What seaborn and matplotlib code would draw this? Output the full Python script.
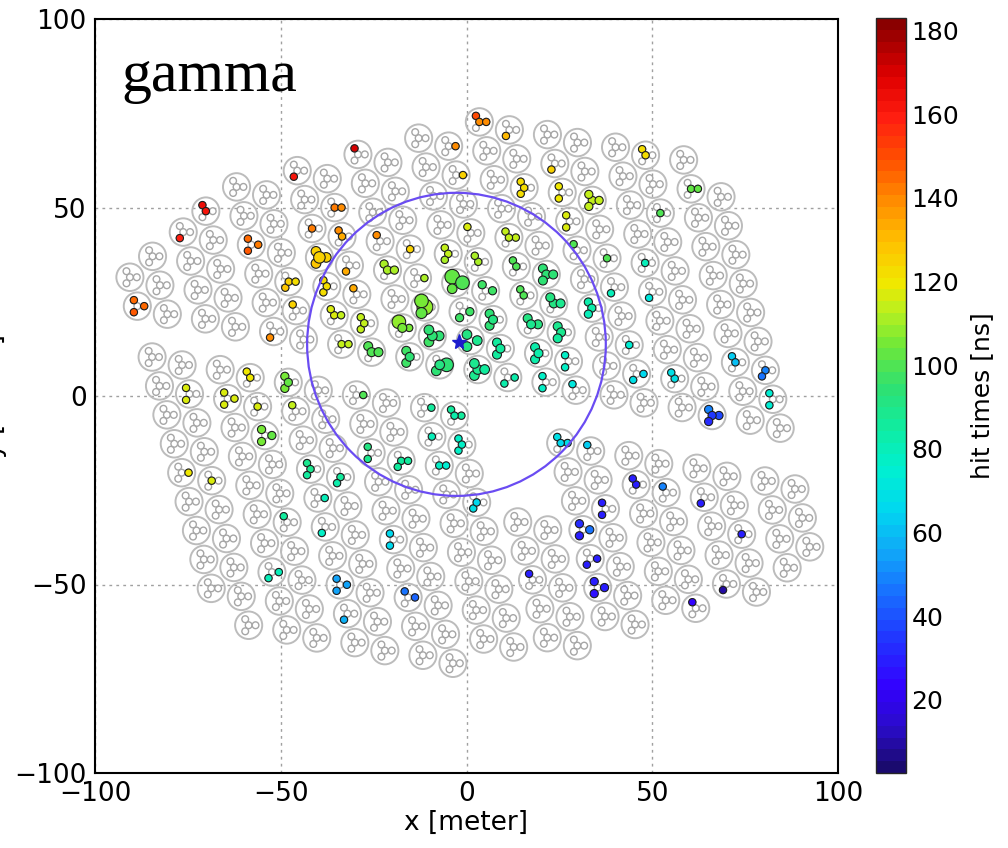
import numpy as np
import pandas as pd
import matplotlib
matplotlib.use("Agg")
import matplotlib.pyplot as plt
from matplotlib.collections import EllipseCollection
from matplotlib.colors import LinearSegmentedColormap, Normalize
from matplotlib.patches import Circle
import seaborn as sns

# ---------------- detector layout ----------------
# Tanks sit on a staggered lattice: 10 double strips, each made of two
# interleaved tank columns (side 0 / side 1).  Every column has an upper
# and a lower segment separated by an access lane.
col_strip   = [0, 0, 1, 1, 2, 2, 3, 3, 4, 4, 5, 5, 6, 6, 7, 7, 8, 8, 9, 9]
col_side    = [0, 1] * 10
upper_first = [0, -1, -2, -3, -4, -4, -5, -5, -6, -6, -7, -7, -8, -8, -8, -8, -8, -8, -8, -7]
upper_last  = [1] * 20
lower_first = [3] * 10 + [6, 6] + [3] * 8
lower_last  = [11, 12, 12, 12, 12, 12, 12, 12, 11, 11, 10, 10, 9, 9, 8, 8, 7, 7, 6, 5]
lower_dx    = [0.0] * 10 + [0.8, 0.8] + [0.0] * 8
lower_dy    = [1.85] * 10 + [-2.1, -2.1] + [-0.8] * 8

# lattice vectors [m]
origin     = np.array([-90.6, 31.5])
strip_step = np.array([18.33, -3.36])
side_step  = np.array([8.08, -2.12])
row_step   = np.array([1.99, -7.67])

tank_radius = 3.65
pmt_radius = 0.9
pmt_offset = 1.85
pmt_angles = [None, 0.0, 120.0, 240.0]   # pmt 0 is the central one

# ---------------- reconstructed event ----------------
core_x, core_y = -2.0, 14.3
ring_x, ring_y, ring_r = -2.7, 13.7, 40.2

# hit tanks (strip, side, row), the PMTs that fired, their times [ns] and charge scale
hit_tank = [
    (6, 0, -8), (5, 1, -7), (4, 0, -6), (5, 1, -6), (3, 0, -5), (3, 1, -4), (1, 1, -3),
    (1, 0, -2), (2, 0, -2), (3, 0, -3), (3, 1, -3), (4, 0, -3), (4, 1, -3), (3, 0, -2),
    (3, 1, -2), (4, 0, -2), (4, 1, -2), (5, 0, -2), (2, 1, -1), (3, 0, -1), (3, 1, -1),
    (4, 1, -1), (5, 0, -1), (0, 0, 1), (2, 1, 0), (2, 0, 1), (3, 0, 0), (3, 1, 0),
    (4, 0, 0), (4, 1, 0), (5, 0, 0), (3, 0, 1), (3, 1, 1), (4, 0, 1), (4, 1, 1),
    (5, 0, 1), (5, 1, -4), (5, 1, -3), (5, 1, -2), (5, 1, -1), (5, 1, 0), (5, 1, 1),
    (5, 0, -3), (6, 1, -8), (7, 0, -7), (6, 1, -6), (7, 0, -6), (7, 1, -6), (8, 1, -8),
    (9, 0, -7), (8, 1, -6), (7, 0, -5), (6, 0, -4), (7, 0, -4), (7, 1, -4), (8, 0, -4),
    (6, 0, -3), (6, 1, -3), (6, 0, -2), (6, 1, -2), (7, 1, -3), (8, 0, -3), (7, 0, -2),
    (6, 0, -1), (6, 1, -1), (6, 0, 0), (6, 1, 0), (7, 1, -1), (6, 0, 1), (6, 1, 1),
    (7, 1, 0), (8, 0, 0), (9, 0, -1), (9, 1, -1), (9, 1, 0), (6, 0, 3), (6, 1, 3),
    (8, 1, 1), (7, 0, 4), (7, 1, 4), (8, 0, 4), (6, 1, 5), (6, 0, 6), (6, 0, 7),
    (8, 1, 5), (5, 0, 8), (6, 0, 8), (8, 0, 7), (7, 1, 8), (1, 1, 3), (2, 0, 3),
    (3, 0, 3), (0, 1, 4), (1, 0, 4), (1, 1, 4), (2, 0, 4), (4, 0, 3), (4, 1, 3),
    (1, 1, 5), (3, 0, 5), (3, 1, 5), (4, 0, 4), (4, 1, 4), (4, 0, 5), (0, 0, 7),
    (0, 1, 7), (2, 0, 6), (2, 1, 6), (2, 0, 7), (1, 1, 8), (2, 0, 8), (3, 0, 8),
    (1, 0, 10), (2, 0, 10), (2, 0, 11), (3, 0, 10), (4, 1, 6),
]
hit_pmts = [
    [2, 0, 1], [1], [2], [1], [3], [0, 1], [2, 0],
    [3], [2, 1, 3], [0], [0, 2], [2], [0], [2, 0, 1, 3],
    [3], [2, 0, 1], [1], [2, 1, 3], [0, 1, 3], [2, 0, 3], [2],
    [2, 0, 3], [3, 1], [2, 3, 1], [2], [3], [2, 0, 1], [2, 0, 3],
    [2, 0, 1], [0, 1, 2, 3], [2, 1, 3], [0, 1], [2, 0, 1], [2, 0, 3], [1, 0, 3],
    [0, 1, 2, 3], [2], [2, 0], [2, 1], [2, 0, 3], [2, 0, 3], [1, 3],
    [2, 0, 3], [3], [3], [2, 0, 3], [2, 3], [0, 1, 2, 3], [2, 0],
    [0, 1], [0], [2, 3], [2, 0, 1], [2], [0], [0],
    [2, 0], [0, 1, 2, 3], [2, 0], [2, 0, 1], [3], [3], [2, 0, 3],
    [2, 0, 1], [2, 0, 3], [2, 0, 3], [2, 3], [0], [2, 3], [2],
    [3, 1], [2, 0], [2, 0], [0, 3], [2, 3], [2, 0, 1], [2],
    [0, 1, 3, 2], [2, 0], [2], [3], [2, 3], [2, 3, 1], [3, 1],
    [0], [2], [2, 3, 1], [3], [2], [2, 0], [2, 0, 3],
    [1], [2, 3], [2, 1, 3], [0], [2], [1], [2, 0, 1],
    [2, 1, 3], [2, 3], [0, 1, 3], [0], [2, 0, 3], [0, 1], [1],
    [0], [2, 3, 0], [0, 3], [1], [2], [3], [2, 3],
    [3, 1], [2, 1, 3], [3], [2, 1], [3, 0],
]
hit_times = [
    [150, 140, 138], [140], [170], [125], [163], [143, 140], [165, 163],
    [160], [145, 143, 147], [142], [135, 138], [138], [125], [125, 124, 126, 127],
    [135], [112, 112, 111], [112], [103, 100, 102], [125, 123, 128], [122, 121, 123], [135],
    [105, 107, 104], [98, 97], [145, 148, 144], [125], [140], [116, 116, 115], [114, 113, 114],
    [107, 106, 106], [95, 95, 94, 96], [90, 89, 91], [114, 113], [100, 100, 99], [96, 95, 96], [93, 92, 93],
    [88, 87, 88, 89], [118], [110, 110], [97, 97], [93, 92, 93], [86, 85, 86], [82, 82],
    [113, 113, 112], [130], [126], [122, 121, 122], [120, 119], [115, 115, 114, 115], [122, 121],
    [103, 102], [100], [118, 117], [115, 114, 115], [100], [100], [80],
    [100, 99], [95, 94, 95, 94], [100, 99], [90, 90, 89], [80], [72], [82, 82, 81],
    [90, 89, 90], [88, 88, 87], [83, 82, 83], [78, 77], [75], [78, 77], [72],
    [68, 67], [70, 70], [62, 61], [48, 47], [75, 74], [68, 67, 68], [62],
    [35, 38, 33, 50], [30, 30], [50], [28], [30, 29], [32, 30, 45], [30, 29],
    [28], [30], [28, 27, 28], [10], [25], [120, 119], [105, 104, 105],
    [100], [118, 117], [118, 118, 117], [116], [113], [85], [85, 84, 85],
    [105, 104, 105], [90, 89], [86, 85, 86], [80], [78, 77, 78], [76, 75], [120],
    [118], [88, 87, 88], [85, 84], [80], [85], [78], [66, 65],
    [80, 79], [55, 54, 56], [58], [45, 44], [68, 67],
]
hit_sizes = [
    [1, 1, 1], [1], [1], [1], [1], [1, 1], [1, 1],
    [1], [1, 1, 1], [1], [1, 1], [1], [1], [1.3, 1.6, 1.3, 1.3],
    [0.9], [1.1, 1.1, 1.1], [1], [2.2, 2.0, 1.3], [1, 1, 1], [1, 1, 1], [1],
    [2.0, 2.5, 1.5], [1.1, 1.1], [1, 1, 1], [1], [1], [1, 1, 1], [1, 1, 1],
    [2.0, 1.2, 1.0], [1.3, 1.3, 1.3, 1.3], [1.3, 1.3, 1.3], [1, 1], [1.2, 1.2, 1.2], [1.2, 1.2, 1.2], [2.0, 1.3, 1.3],
    [1.3, 1.3, 1.3, 1.3], [1], [1, 1], [1.1, 1.1], [1.2, 1.2, 1.2], [1.2, 1.2, 1.2], [1, 1],
    [1, 1, 1], [1], [1], [1, 1, 1], [1, 1], [1.1, 1.1, 1.1, 1.1], [1, 1],
    [1, 1], [1], [1, 1], [1, 1, 1], [1], [1], [1],
    [1, 1], [1.2, 1.2, 1.2, 1.2], [1, 1], [1.2, 1.2, 1.2], [1], [1], [1.1, 1.1, 1.1],
    [1.2, 1.2, 1.2], [1.2, 1.2, 1.2], [1.2, 1.2, 1.2], [1, 1], [1], [1, 1], [1],
    [1, 1], [1, 1], [1, 1], [1, 1], [1, 1], [1, 1, 1], [1],
    [1.1, 1.1, 1.1, 1.1], [1, 1], [1], [1], [1, 1], [1.1, 1.1, 1.1], [1, 1],
    [1], [1], [1.1, 1.1, 1.1], [1], [1], [1, 1], [1.1, 1.1, 1.1],
    [1], [1, 1], [1, 1, 1], [1], [1], [1], [1, 1, 1],
    [1.1, 1.1, 1.1], [1, 1], [1, 1, 1], [1], [1, 1, 1], [1, 1], [1],
    [1], [1, 1, 1], [1, 1], [1], [1], [1], [1, 1],
    [1, 1], [1, 1, 1], [1], [1, 1], [1, 1],
]

t_min, t_max = 2.5, 183.0

# colour scale of the hit times (rainbow running from indigo to dark red)
scale_times = [2.5, 12, 22, 35, 45, 55, 65, 75, 85, 95, 105, 113, 120, 130, 140, 150, 160, 170, 183]
scale_colors = ["#1a0a6e", "#2a0cc8", "#3300ff", "#1f3cff", "#1870ff", "#10a8f8", "#00d8f0",
                "#00f0d0", "#10eca0", "#30e070", "#70e838", "#b8f020", "#f0e800", "#ffc000",
                "#ff8c00", "#ff5000", "#ff1e10", "#e00000", "#8a0000"]

# ---------------- geometry helpers ----------------
tank_pos = {}
for c in range(len(col_strip)):
    k, s = col_strip[c], col_side[c]
    base = origin + k * strip_step + s * side_step
    for j in range(upper_first[c], upper_last[c] + 1):
        tank_pos[(k, s, j)] = base + j * row_step
    for j in range(lower_first[c], lower_last[c] + 1):
        tank_pos[(k, s, j)] = base + j * row_step + np.array([lower_dx[c], lower_dy[c]])

tanks = np.array(list(tank_pos.values()))


def pmt_xy(center, p):
    if pmt_angles[p] is None:
        return center
    a = np.deg2rad(pmt_angles[p])
    return center + pmt_offset * np.array([np.cos(a), np.sin(a)])


pmts = np.array([pmt_xy(t, p) for t in tanks for p in range(4)])

rows = []
for key, plist, tlist, qlist in zip(hit_tank, hit_pmts, hit_times, hit_sizes):
    for p, t, q in zip(plist, tlist, qlist):
        x, y = pmt_xy(tank_pos[key], p)
        rows.append({"x": x, "y": y, "t": t, "q": q})
hits = pd.DataFrame(rows).sort_values("t", ascending=False)

# ---------------- figure ----------------
sns.set_style("white")
plt.rcParams["font.family"] = ["DejaVu Sans"]
plt.rcParams["axes.unicode_minus"] = True
for key in ("text.color", "axes.labelcolor", "xtick.color", "ytick.color"):
    plt.rcParams[key] = "black"

fig = plt.figure(figsize=(10.08, 8.48), dpi=100)
ax = fig.add_axes([95 / 1008, 1 - 773 / 848, 743 / 1008, 754 / 848])

ax.add_collection(EllipseCollection(
    np.full(len(tanks), 2 * tank_radius), np.full(len(tanks), 2 * tank_radius),
    np.zeros(len(tanks)), units="xy", offsets=tanks, offset_transform=ax.transData,
    facecolors="none", edgecolors="#bcbcbc", linewidths=1.4, zorder=1))
ax.add_collection(EllipseCollection(
    np.full(len(pmts), 2 * pmt_radius), np.full(len(pmts), 2 * pmt_radius),
    np.zeros(len(pmts)), units="xy", offsets=pmts, offset_transform=ax.transData,
    facecolors="white", edgecolors="#a6a6a6", linewidths=1.0, zorder=2))

norm = Normalize(t_min, t_max)
cmap = LinearSegmentedColormap.from_list(
    "hit_times", list(zip([norm(t) for t in scale_times], scale_colors)), N=64)

sns.scatterplot(data=hits, x="x", y="y", hue="t", size="q", palette=cmap,
                hue_norm=norm, sizes=(28, 130), size_norm=(1, 2.5),
                edgecolor="#1e1e1e", linewidth=0.8, legend=False, ax=ax, zorder=3)

ax.add_patch(Circle((ring_x, ring_y), ring_r, fill=False, ec="#6a4cf2", lw=1.6, zorder=4))
ax.plot([core_x], [core_y], marker="*", color="#1c1ccc", ms=11, zorder=5)

ax.set_xlim(-100, 100)
ax.set_ylim(-100, 100)
ax.set_xticks([-100, -50, 0, 50, 100])
ax.set_yticks([-100, -50, 0, 50, 100])
ax.grid(True, ls=(0, (2, 3)), color="#a0a0a0", lw=1.0)
ax.tick_params(labelsize=19, direction="in", length=4, pad=6)
for sp in ax.spines.values():
    sp.set_color("black")
    sp.set_linewidth(1.5)
ax.set_xlabel("x [meter]", fontsize=19, labelpad=2)
ax.set_ylabel("y [meter]", fontsize=19)
ax.yaxis.set_label_coords(-0.118, 0.5)

ax.text(0.036, 0.905, "gamma", transform=ax.transAxes, fontsize=43, color="black",
        family=["Liberation Serif", "DejaVu Serif"], ha="left", va="baseline")

cax = fig.add_axes([876 / 1008, 1 - 773 / 848, 30 / 1008, 755 / 848])
sm = matplotlib.cm.ScalarMappable(norm=norm, cmap=cmap)
cb = fig.colorbar(sm, cax=cax)
cb.set_ticks(list(range(20, 181, 20)))
cb.outline.set_linewidth(1.0)
cax.tick_params(labelsize=18, direction="in", length=4, pad=4)
cb.set_label("hit times [ns]", fontsize=18, labelpad=8)

fig.savefig("out.png", dpi=100)
